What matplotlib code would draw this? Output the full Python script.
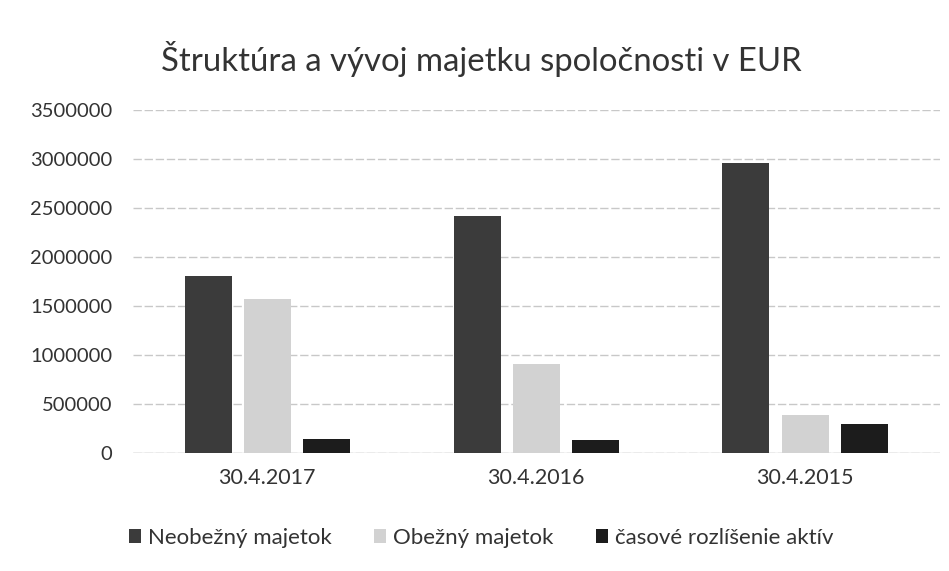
import numpy as np
import matplotlib.pyplot as plt

# dáta z grafu
dates = ["30.4.2017", "30.4.2016", "30.4.2015"]
neobezny = [1810000, 2420000, 2960000]
obezny = [1570000, 910000, 390000]
casove = [140000, 130000, 290000]

series_names = ["Neobežný majetok", "Obežný majetok", "časové rozlíšenie aktív"]
colors = ["#3b3b3b", "#d2d2d2", "#1c1c1c"]

plt.rcParams['font.family'] = ['Lato', 'DejaVu Sans']

fig = plt.figure(figsize=(9.49, 5.71), dpi=100)
ax = fig.add_axes([0.140, 0.207, 0.850, 0.600])

x = np.arange(len(dates))
width = 0.175
offsets = [-0.22, 0.0, 0.22]
for vals, name, col, off in zip([neobezny, obezny, casove], series_names, colors, offsets):
    ax.bar(x + off, vals, width, color=col, label=name, zorder=3)

ax.set_xlim(-0.5, 2.5)
ax.set_ylim(0, 3500000)
ax.set_yticks(np.arange(0, 3500001, 500000))
ax.set_yticklabels([str(v) for v in range(0, 3500001, 500000)])
ax.set_xticks(x)
ax.set_xticklabels(dates)
ax.tick_params(axis='both', length=0, colors="#333333")
ax.tick_params(axis='x', pad=11, labelsize=15.5)
ax.tick_params(axis='y', pad=15, labelsize=14.5)
ax.grid(axis='y', color="#c8c8c8", linewidth=1, linestyle=(0, (6, 2)), zorder=0)
for s in ax.spines.values():
    s.set_visible(False)
ax.axhline(0, color="#c8c8c8", linewidth=1, zorder=2)

fig.text(0.507, 0.897, "Štruktúra a vývoj majetku spoločnosti v EUR",
         ha='center', va='center', fontsize=23.7, color="#333333")

fig.legend(loc='center', bbox_to_anchor=(0.507, 0.058), ncol=3, frameon=False,
           fontsize=16, handlelength=0.55, handleheight=0.55, handletextpad=0.3,
           columnspacing=1.9, labelcolor="#333333")

fig.savefig("out.png", dpi=100)
